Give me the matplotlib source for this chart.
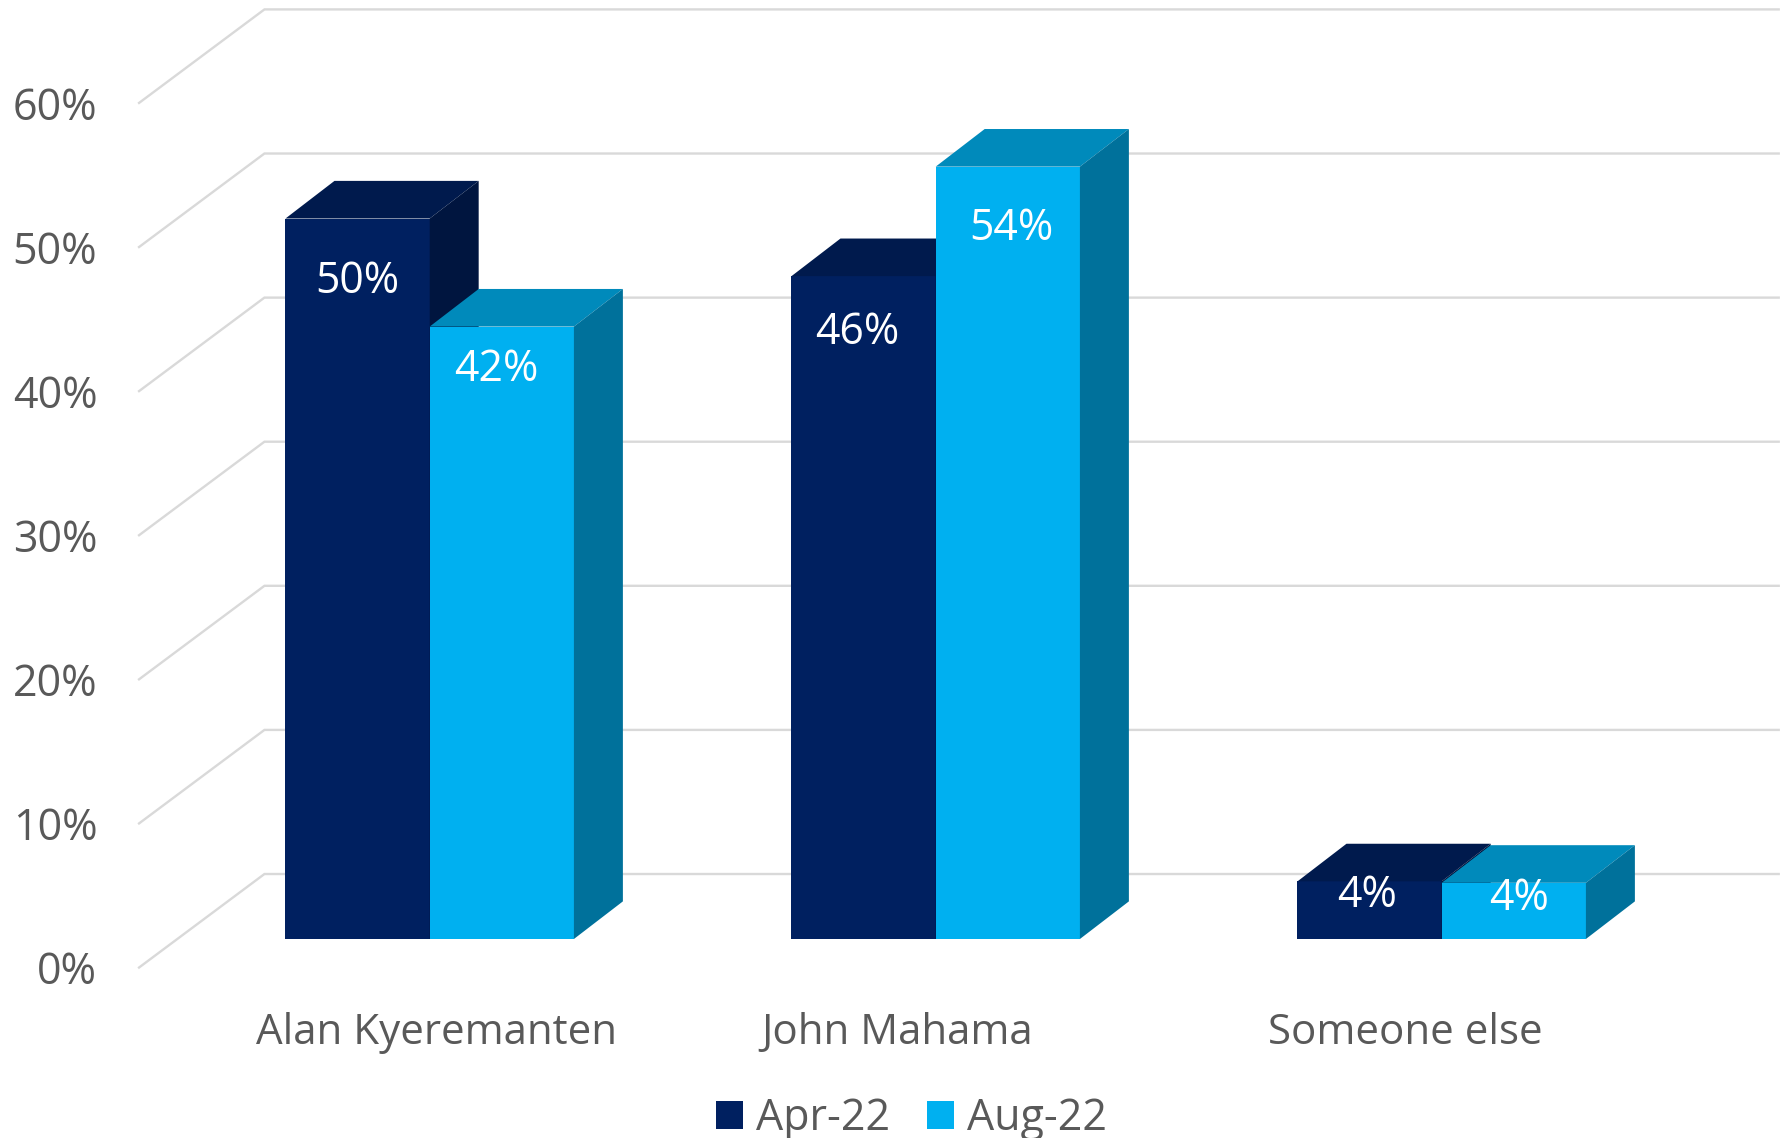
import matplotlib
matplotlib.use('Agg')
import matplotlib.pyplot as plt
from matplotlib.patches import Patch, Polygon

# values
categories = ['Alan Kyeremanten', 'John Mahama', 'Someone else']
apr_22 = [50.0, 46.0, 4.0]
aug_22 = [42.5, 53.6, 3.9]
y_ticks = [0, 10, 20, 30, 40, 50, 60]
series_names = ['Apr-22', 'Aug-22']

# label nudges from the top of each bar (x in category units, y in percent)
label_dx = [[0.0, -0.01], [-0.012, 0.008], [-0.005, 0.011]]
label_dy = [[-4.02, -2.6], [-3.55, -3.95], [-0.6, -0.72]]

navy = ['#002060', '#001A4D', '#00153F']
cyan = ['#00B0F0', '#008ABB', '#00719B']
grid_color = '#D9D9D9'
text_color = '#595959'
font = 'Open Sans'

W, H = 1787, 1138
PX_X = 506.0    # pixels per category
PX_Y = 14.41    # pixels per percent
X0 = 429.7      # pixel x of first group centre
Y0 = 939.0      # pixel y of bar bottoms

bar_w = 0.285
# depth of the bars and of the walls, as x / y shift
bar_dx, bar_dy = 0.0968, 2.61
wall_left, wall_back, wall_right = -0.5744, -0.3266, 2.666
wall_front_y, wall_back_y = -1.98, 4.51

fig = plt.figure(figsize=(W / 100, H / 100), dpi=100)
ax = fig.add_axes([0, 0, 1, 1])
ax.set_xlim(-X0 / PX_X, (W - X0) / PX_X)
ax.set_ylim(-(H - Y0) / PX_Y, Y0 / PX_Y)
ax.axis('off')

# gridlines on the side and back walls
for t in y_ticks:
    ax.plot([wall_left, wall_back, wall_right],
            [t + wall_front_y, t + wall_back_y, t + wall_back_y],
            color=grid_color, lw=1.7, zorder=1, solid_joinstyle='miter')
    ax.text(-0.657, t + wall_front_y, '{}%'.format(t), ha='right', va='center_baseline',
            color=text_color, fontsize=31, family=font)


def draw_bar(x, w, h, colors, z):
    # front face, then top and side faces shifted back
    ax.bar(x, h, w, align='edge', color=colors[0], lw=0, zorder=z, antialiased=False)
    ax.add_patch(Polygon([(x, h), (x + w, h), (x + w + bar_dx, h + bar_dy), (x + bar_dx, h + bar_dy)],
                         closed=True, fc=colors[1], lw=0, zorder=z))
    ax.add_patch(Polygon([(x + w, 0), (x + w + bar_dx, bar_dy), (x + w + bar_dx, h + bar_dy), (x + w, h)],
                         closed=True, fc=colors[2], lw=0, zorder=z))


for i in range(len(categories)):
    draw_bar(i - bar_w, bar_w, apr_22[i], navy, 2 + i * 2)
    draw_bar(i, bar_w, aug_22[i], cyan, 3 + i * 2)

    ax.text(i - bar_w / 2 + label_dx[i][0], apr_22[i] + label_dy[i][0], '{:.0f}%'.format(apr_22[i]),
            ha='center', va='center_baseline', color='white', fontsize=30.8, family=font, zorder=20)
    ax.text(i + bar_w / 2 + label_dx[i][1], aug_22[i] + label_dy[i][1], '{:.0f}%'.format(aug_22[i]),
            ha='center', va='center_baseline', color='white', fontsize=30.8, family=font, zorder=20)

    ax.text(i - bar_w - 0.059, -7.28, categories[i], ha='left', va='baseline',
            color=text_color, fontsize=30.3, family=font)

handles = [Patch(color=navy[0], lw=0), Patch(color=cyan[0], lw=0)]
ax.legend(handles, series_names, loc='lower center', bbox_to_anchor=(0.5102, -0.037), ncol=2, frameon=False,
          handlelength=0.635, handleheight=0.635, handletextpad=0.3, columnspacing=0.85,
          labelcolor=text_color, prop={'family': font, 'size': 31})

fig.savefig('out.png', dpi=100)
